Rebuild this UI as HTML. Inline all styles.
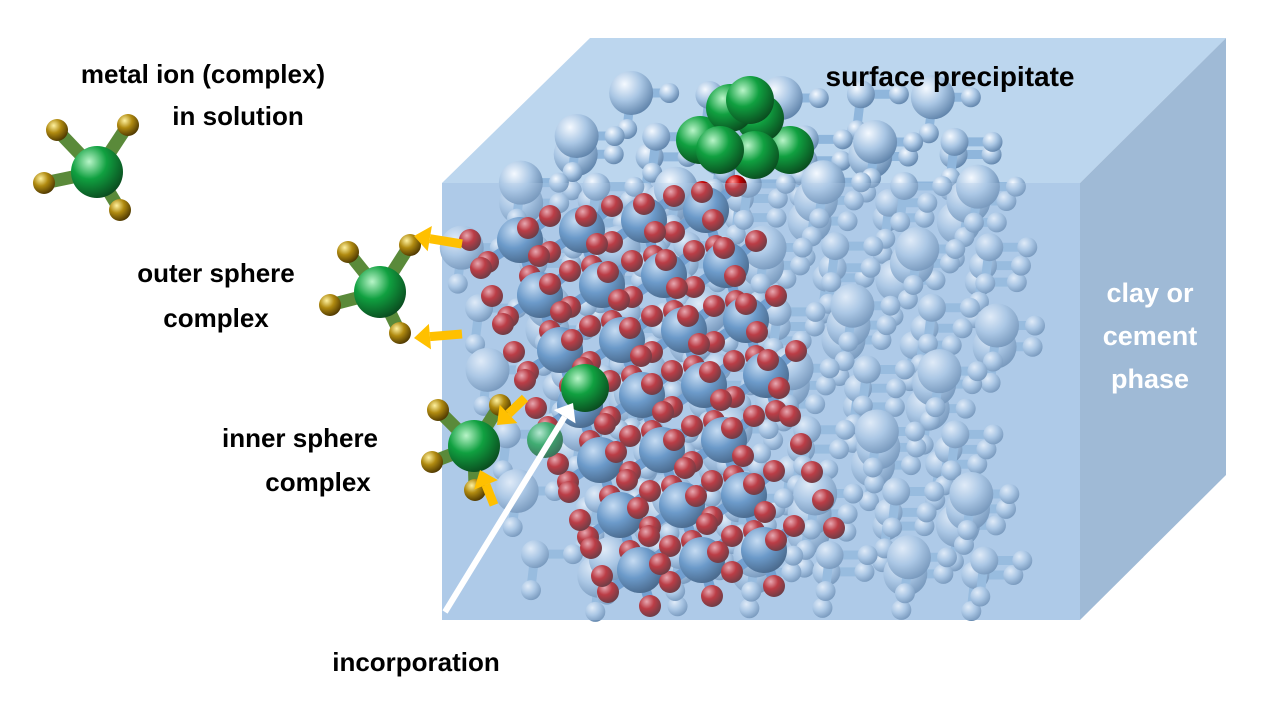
<!DOCTYPE html>
<html><head><meta charset="utf-8"><style>
html,body{margin:0;padding:0;background:#fff;}
svg{display:block}
text{font-family:"Liberation Sans",sans-serif;font-weight:bold;}
</style></head><body>
<svg id="s" width="1280" height="720" viewBox="0 0 1280 720" xmlns="http://www.w3.org/2000/svg">
<defs>
<radialGradient id="gl" cx="0.35" cy="0.3" r="0.75"><stop offset="0" stop-color="#f4f9ff"/><stop offset="0.5" stop-color="#a9c6e4"/><stop offset="1" stop-color="#5f83aa"/></radialGradient>
<radialGradient id="gb" cx="0.35" cy="0.3" r="0.75"><stop offset="0" stop-color="#cfe3f7"/><stop offset="0.5" stop-color="#4f86bd"/><stop offset="1" stop-color="#1d3e63"/></radialGradient>
<radialGradient id="gr" cx="0.35" cy="0.3" r="0.75"><stop offset="0" stop-color="#ff9a9a"/><stop offset="0.45" stop-color="#c00000"/><stop offset="1" stop-color="#4a0000"/></radialGradient>
<radialGradient id="gg" cx="0.35" cy="0.3" r="0.75"><stop offset="0" stop-color="#b8f5c8"/><stop offset="0.45" stop-color="#10a040"/><stop offset="1" stop-color="#0a4a1e"/></radialGradient>
<radialGradient id="gy" cx="0.35" cy="0.3" r="0.75"><stop offset="0" stop-color="#fff2a0"/><stop offset="0.45" stop-color="#b08a10"/><stop offset="1" stop-color="#4a3500"/></radialGradient>
</defs>
<polygon points="442,183 590,38 1226,38 1080,183" fill="#bcd6ee"/>
<polygon points="1080,183 1226,38 1226,475 1080,620" fill="#9fbad6"/>
<polygon points="442,183 1080,183 1080,620 442,620" fill="#aecbe8"/>
<g id="mol"></g>
<polygon points="442,183 1080,183 1080,620 442,620" fill="#aecbe8" opacity="0.3"/>
<g id="top"></g>
<text x="1150" y="302" fill="#fff" font-size="27" text-anchor="middle">clay or</text>
<text x="1150" y="345" fill="#fff" font-size="27" text-anchor="middle">cement</text>
<text x="1150" y="388" fill="#fff" font-size="27" text-anchor="middle">phase</text>
<text x="950" y="86" fill="#000" font-size="28" text-anchor="middle">surface precipitate</text>
<text x="203" y="83" fill="#000" font-size="26" text-anchor="middle">metal ion (complex)</text>
<text x="238" y="125" fill="#000" font-size="26" text-anchor="middle">in solution</text>
<text x="216" y="282" fill="#000" font-size="26" text-anchor="middle">outer sphere</text>
<text x="216" y="327" fill="#000" font-size="26" text-anchor="middle">complex</text>
<text x="300" y="447" fill="#000" font-size="26" text-anchor="middle">inner sphere</text>
<text x="318" y="491" fill="#000" font-size="26" text-anchor="middle">complex</text>
<text x="416" y="671" fill="#000" font-size="26" text-anchor="middle">incorporation</text>
</svg>
<script>
var NS="http://www.w3.org/2000/svg",mol=document.getElementById('mol'),top_=document.getElementById('top');
function el(p,t,a){var e=document.createElementNS(NS,t);for(var k in a)e.setAttribute(k,a[k]);p.appendChild(e);return e;}
function sph(p,x,y,r,g){el(p,'circle',{cx:x,cy:y,r:r,fill:'url(#'+g+')'});}
function bond(p,x1,y1,x2,y2,w,c){el(p,'line',{x1:x1,y1:y1,x2:x2,y2:y2,stroke:c,'stroke-width':w});}
var seed=7;function rnd(){seed=(seed*9301+49297)%233280;return seed/233280;}
for(var L=0;L<3;L++){
 var ox=560-L*55, oy=95+L*45;
 for(var j=0;j<8;j++)for(var i=0;i<8;i++){
  var x=ox+i*75+j*14+(rnd()-0.5)*10, y=oy+j*62+(rnd()-0.5)*8;
  if(x<450||x>1000||y>600)continue;
  if(y<190 && x<590-(y-40)*0+ (190-y)*(-1)+600 && x< 450+(190-y)*1.0+60)continue;
  bond(mol,x,y,x+36,y,9,'#8fb6dc');bond(mol,x,y,x-4,y+34,9,'#8fb6dc');
  sph(mol,x+38,y,10,'gl');sph(mol,x-4,y+36,10,'gl');
  sph(mol,x,y,(i+j)%2?22:14,'gl');
 }
}
for(var j=0;j<7;j++)for(var i=0;i<4;i++){
 var x=520+i*62+j*20, y=240+j*55-i*10;
 if(x>770)continue;
 bond(mol,x,y,x-30,y+20,10,'#5a8fc8');bond(mol,x,y,x+28,y-22,10,'#5a8fc8');bond(mol,x,y,x+10,y+34,10,'#5a8fc8');
 sph(mol,x-32,y+22,11,'gr');sph(mol,x+30,y-24,11,'gr');sph(mol,x+10,y+36,11,'gr');
 sph(mol,x,y,23,'gb');
}
for(var c=0;c<5;c++)for(var k=0;k<13;k++){
 var x=470+c*58+k*11, y=240+k*28-c*12;
 if(y>615)continue;
 sph(mol,x,y,11,'gr');
}
[[700,140],[790,150],[760,118],[730,108],[755,155],[720,150],[750,100]].forEach(function(p){sph(top_,p[0],p[1],24,'gg');});
function cx4(x,y,arms){arms.forEach(function(a){bond(top_,x,y,a[0],a[1],13,'#5a8a3a');});arms.forEach(function(a){sph(top_,a[0],a[1],11,'gy');});sph(top_,x,y,26,'gg');}
cx4(97,172,[[57,130],[128,125],[44,183],[120,210]]);
cx4(380,292,[[348,252],[410,245],[330,305],[400,333]]);
cx4(474,446,[[438,410],[432,462],[475,490],[500,405]]);
sph(top_,585,388,24,'gg');
sph(mol,545,440,18,'gg');
function arr(x1,y1,x2,y2,c,w){var a=Math.atan2(y2-y1,x2-x1),h=16;
 bond(top_,x1,y1,x2-Math.cos(a)*h,y2-Math.sin(a)*h,w,c);
 el(top_,'polygon',{points:[x2,y2,x2-Math.cos(a)*h-Math.sin(a)*h*0.8,y2-Math.sin(a)*h+Math.cos(a)*h*0.8,x2-Math.cos(a)*h+Math.sin(a)*h*0.8,y2-Math.sin(a)*h-Math.cos(a)*h*0.8].join(','),fill:c});}
arr(462,244,414,236,'#ffc000',9);
arr(462,334,414,338,'#ffc000',9);
arr(525,398,497,425,'#ffc000',9);
arr(494,505,480,470,'#ffc000',9);
arr(445,612,573,403,'#fff',6);
</script>
</body></html>
